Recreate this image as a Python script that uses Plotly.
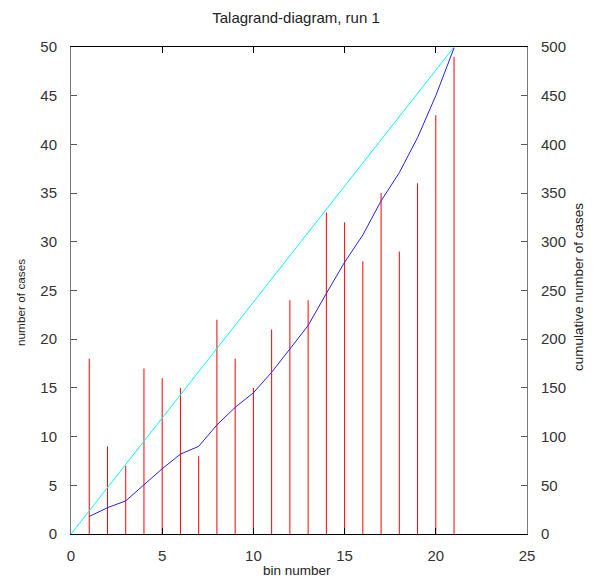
import plotly.graph_objects as go

bins = list(range(1, 22))
counts = [18, 9, 7, 17, 16, 15, 8, 22, 18, 15, 21, 24, 24, 33, 32, 28, 35, 29, 36, 43, 49]
cumulative = [18, 27, 34, 51, 67, 82, 90, 112, 130, 145, 166, 190, 214, 247, 279, 307, 342, 371, 407, 450, 499]
ideal_x = [0, 21]
ideal_y = [0, 500]

title = "Talagrand-diagram, run 1"
xlabel = "bin number"
ylabel = "number of cases"
y2label = "cumulative number of cases"

FONT = "Liberation Sans, Arial, sans-serif"
OFF = 8  # page body margin
W, H = 594 - OFF, 577 - OFF
L, T = 71 - OFF, 47 - OFF
R = W - (527 - OFF)
B = H - (534 - OFF)

# impulses from data
imp_x, imp_y = [], []
for b, c in zip(bins, counts):
    imp_x += [b, b, None]
    imp_y += [0, c, None]

fig = go.Figure()
fig.add_trace(go.Scatter(x=imp_x, y=imp_y, mode="lines",
                         line=dict(color="#ff0000", width=1), showlegend=False,
                         hoverinfo="skip"))
fig.add_trace(go.Scatter(x=ideal_x, y=ideal_y, mode="lines", yaxis="y2",
                         line=dict(color="#00ffff", width=1), showlegend=False))
fig.add_trace(go.Scatter(x=bins, y=cumulative, mode="lines", yaxis="y2",
                         line=dict(color="#2020ff", width=1), showlegend=False))

ph = H - T - B
pw = W - L - R


def py(page_y):
    # page y pixel -> paper y fraction
    return ((H - B) - (page_y - OFF)) / ph


def px(page_x):
    return ((page_x - OFF) - L) / pw


fig.update_layout(
    width=W, height=H,
    margin=dict(l=L, r=R, t=T, b=B, autoexpand=False),
    paper_bgcolor="white", plot_bgcolor="white",
    font=dict(family=FONT, color="#222222"),
    title=dict(text=title, x=(296 - OFF) / W, xref="container", y=1 - (18 - OFF) / H,
               yref="container", xanchor="center", yanchor="middle",
               font=dict(size=15, color="#222222")),
    xaxis=dict(range=[0, 25], tickvals=[0, 5, 10, 15, 20, 25], ticks="inside", ticklen=6,
               tickcolor="#000000", showline=True, linecolor="#000000", linewidth=1,
               mirror="ticks", showgrid=False, zeroline=False, automargin=False,
               tickfont=dict(size=15, color="#333333"), ticklabelstandoff=8),
    yaxis=dict(range=[0, 50], tickvals=list(range(0, 51, 5)), ticks="inside", ticklen=6,
               tickcolor="#555555", showline=True, linecolor="#777777", linewidth=1,
               showgrid=False, zeroline=False, automargin=False,
               tickfont=dict(size=15, color="#333333"), ticklabelstandoff=10),
    yaxis2=dict(range=[0, 500], tickvals=list(range(0, 501, 50)), overlaying="y", side="right",
                ticks="inside", ticklen=6, tickcolor="#555555", showline=True,
                linecolor="#777777", linewidth=1, showgrid=False, zeroline=False,
                automargin=False,
                tickfont=dict(size=15, color="#333333"), ticklabelstandoff=10),
    annotations=[
        dict(text=xlabel, xref="paper", yref="paper", x=px(297), y=py(570),
             xanchor="center", yanchor="middle", showarrow=False,
             font=dict(size=13.5, color="#222222")),
        dict(text=ylabel, xref="paper", yref="paper", x=px(21), y=py(303),
             xanchor="center", yanchor="middle", textangle=-90, showarrow=False,
             font=dict(size=11.8, color="#222222")),
        dict(text=y2label, xref="paper", yref="paper", x=px(578), y=py(287),
             xanchor="center", yanchor="middle", textangle=-90, showarrow=False,
             font=dict(size=13.5, color="#222222")),
    ],
)

fig.write_html("out.html")
